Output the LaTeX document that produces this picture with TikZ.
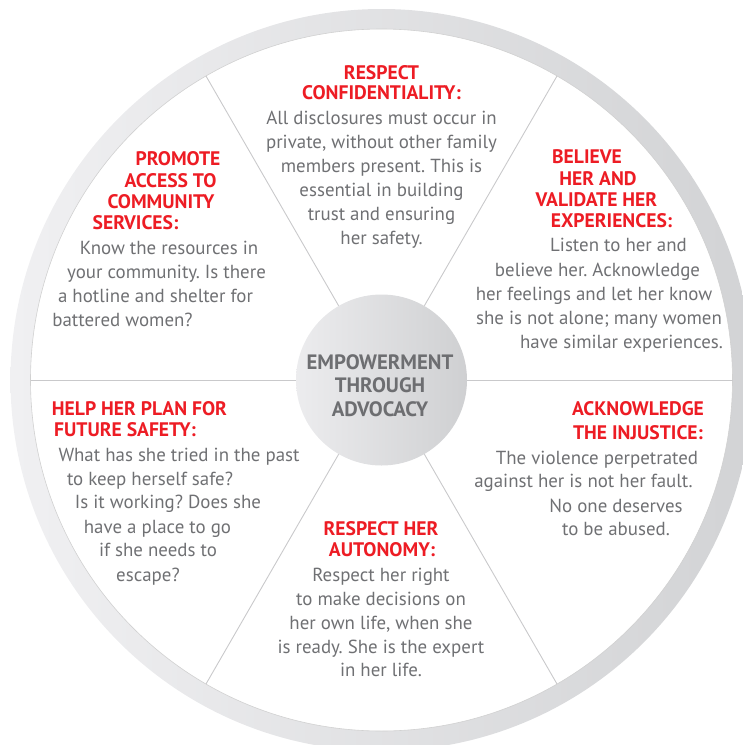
\documentclass[tikz,border=0pt]{standalone}
\usepackage{fontspec}
\setmainfont{PT Sans}
\usetikzlibrary{calc}
\frenchspacing
\definecolor{tred}{HTML}{ED1C24}
\definecolor{bgray}{HTML}{6F7073}
\definecolor{hgray}{HTML}{6D6E71}
\definecolor{ringL}{HTML}{F0F0F2}
\definecolor{ringR}{HTML}{D2D3D5}
\definecolor{hubL}{HTML}{ECECEE}
\definecolor{hubR}{HTML}{CFD0D2}
\definecolor{spokec}{HTML}{C9C9CB}
\newcommand\bodyln[4]{\node[bodytxt] (#1) at (#2,#3) {#4};}
\newcommand\titln[4]{\node[titletxt] (#1) at (#2,#3) {#4};}
\begin{document}
\begin{tikzpicture}[x=1pt,y=-1pt,
  bodytxt/.style={font=\frenchspacing\fontsize{18.9}{20}\selectfont, text=bgray, inner sep=0pt, text height=0.72em, text depth=0.22em, yshift=-3.2pt},
  titletxt/.style={font=\bfseries\fontsize{19.6}{20}\selectfont, text=tred, inner sep=0pt, text height=0.7em, text depth=0pt, yshift=-2.4pt},
  hubtxt/.style={font=\bfseries\fontsize{20.8}{20}\selectfont, text=hgray, inner sep=0pt, text height=0.7em, text depth=0pt, yshift=-3pt},
  spoke/.style={draw=spokec, line width=0.9pt}]
\useasboundingbox (0,0) rectangle (743,745);
\clip (0,0) rectangle (743,745);
\coordinate (c) at (381.5,380);
% outer ring
\shade[even odd rule, left color=ringL, right color=ringR] (c) circle (371pt) (c) circle (351pt);
\draw[draw=black!18, line width=0.6pt] (c) circle (351pt);
% hub and spokes
\node[circle, minimum size=171pt, inner sep=0pt, left color=hubL, right color=hubR] (hub) at (c) {};
\foreach \a in {0,60,120,180,240,300}{
  \coordinate (r\a) at ($(c)+(\a:351pt)$);
  \draw[spoke] (hub.\a) -- (r\a);
}
% hub text
\node[hubtxt] (h1) at (380,362.5) {EMPOWERMENT};
\node[hubtxt] (h2) at (380,386) {THROUGH};
\node[hubtxt] (h3) at (380,410) {ADVOCACY};
% top block
\titln{a1}{381.5}{73.6}{RESPECT}
\titln{a2}{381.5}{94}{CONFIDENTIALITY:}
\bodyln{a3}{381.5}{118.3}{All disclosures must occur in}
\bodyln{a4}{381.5}{142.5}{private, without other family}
\bodyln{a5}{381.5}{166.7}{members present. This is}
\bodyln{a6}{381.5}{191}{essential in building}
\bodyln{a7}{381.5}{214.7}{trust and ensuring}
\bodyln{a8}{381.5}{239}{her safety.}
% top-left block
\titln{b1}{178}{160}{PROMOTE}
\titln{b2}{170.5}{182}{ACCESS TO}
\titln{b3}{161}{203}{COMMUNITY}
\titln{b4}{135.5}{223.5}{SERVICES:}
\bodyln{b5}{169}{248.5}{Know the resources in}
\bodyln{b6}{166.5}{272.7}{your community. Is there}
\bodyln{b7}{155.5}{296.4}{a hotline and shelter for}
\bodyln{b8}{122.5}{320.7}{battered women?}
% top-right block
\titln{c1}{587}{158}{BELIEVE}
\titln{c2}{598}{180}{HER AND}
\titln{c3}{596.5}{201}{VALIDATE HER}
\titln{c4}{611.5}{222}{EXPERIENCES:}
\bodyln{c5}{618.5}{246}{Listen to her and}
\bodyln{c6}{597.5}{270.8}{believe her. Acknowledge}
\bodyln{c7}{594}{294.5}{her feelings and let her know}
\bodyln{c8}{599}{318.8}{she is not alone; many women}
\bodyln{c9}{621.5}{342.5}{have similar experiences.}
% bottom-left block
\titln{d1}{139.5}{410}{HELP HER PLAN FOR}
\titln{d2}{125}{431}{FUTURE SAFETY:}
\bodyln{d3}{179}{455.6}{What has she tried in the past}
\bodyln{d4}{150}{479.3}{to keep herself safe?}
\bodyln{d5}{168}{503}{Is it working? Does she}
\bodyln{d6}{157.5}{527.3}{have a place to go}
\bodyln{d7}{158}{551}{if she needs to}
\bodyln{d8}{148}{575.3}{escape?}
% bottom-right block
\titln{e1}{638}{410}{ACKNOWLEDGE}
\titln{e2}{638}{433.7}{THE INJUSTICE:}
\bodyln{e3}{597}{458.4}{The violence perpetrated}
\bodyln{e4}{583.5}{482}{against her is not her fault.}
\bodyln{e5}{616}{506.4}{No one deserves}
\bodyln{e6}{616}{530}{to be abused.}
% bottom block
\titln{f1}{381}{530}{RESPECT HER}
\titln{f2}{382}{551}{AUTONOMY:}
\bodyln{f3}{381}{575.7}{Respect her right}
\bodyln{f4}{381}{599.5}{to make decisions on}
\bodyln{f5}{381}{623.3}{her own life, when she}
\bodyln{f6}{381}{647.5}{is ready. She is the expert}
\bodyln{f7}{381}{671.2}{in her life.}
\end{tikzpicture}
\end{document}
